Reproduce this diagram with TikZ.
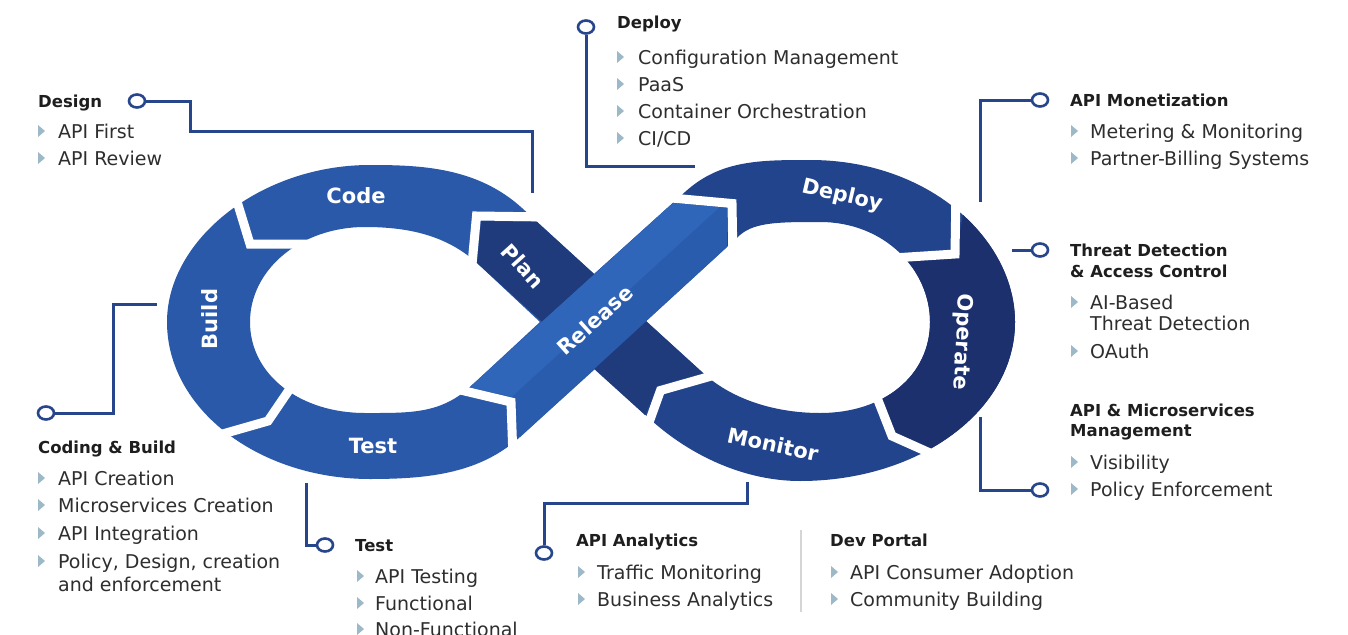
\documentclass[tikz,border=0pt]{standalone}
\usepackage{fontspec}
\setmainfont{DejaVu Sans}
\usetikzlibrary{shapes.geometric}
\definecolor{lobeL}{HTML}{2959A8}
\definecolor{lobeR}{HTML}{22448C}
\definecolor{opcol}{HTML}{1B306D}
\definecolor{plancol}{HTML}{1F3B7C}
\definecolor{relA}{HTML}{3066BA}
\definecolor{relB}{HTML}{2A5CAE}
\definecolor{conncol}{HTML}{26458A}
\definecolor{bulcol}{HTML}{9DB8C6}
\definecolor{hdcol}{HTML}{1E1E1E}
\definecolor{itcol}{HTML}{2E2E2E}
\definecolor{sepcol}{HTML}{D5D5D5}
\begin{document}
\begin{tikzpicture}[x=1pt,y=-1pt,
  gap/.style={draw=white,line width=9pt,line join=miter,line cap=butt},
  conn/.style={draw=conncol,line width=3pt},
  dot/.style={ellipse,draw=conncol,line width=2.6pt,fill=white,minimum width=16pt,minimum height=13pt,inner sep=0pt},
  hd/.style={anchor=base west,inner sep=0pt,text=hdcol,font=\fontsize{16.5}{20}\selectfont\bfseries},
  itm/.style={anchor=base west,inner sep=0pt,text=itcol,font=\fontsize{19}{23}\selectfont},
  lbl/.style={inner sep=0pt,text=white,font=\fontsize{21}{25}\selectfont\bfseries},
  bul/.pic={\fill[bulcol] (0,-6) -- (7,0) -- (0,6) -- cycle;}
]
\useasboundingbox (0,0) rectangle (1348,634);
\fill[white] (0,0) rectangle (1348,634);

% left lobe (Code, Build, Test)
\fill[lobeL,even odd rule] (594,274) -- (522,208) .. controls (477,167) and (420,165) .. (370,165)
  .. controls (260,165) and (167,240) .. (167,322) .. controls (167,410) and (260,479) .. (370,479)
  .. controls (430,479) and (480,473) .. (520,437) -- (595,369) -- cycle
  (540,322) -- (477,263) .. controls (447,236) and (410,227) .. (365,227)
  .. controls (300,227) and (250,270) .. (250,322) .. controls (250,375) and (300,413) .. (365,413)
  .. controls (410,413) and (440,414) .. (470,387) -- cycle;

% right lobe (Deploy, Operate, Monitor)
\fill[lobeR,even odd rule] (594,274) -- (685,192) .. controls (720,160) and (760,160) .. (810,160)
  .. controls (930,160) and (1015,240) .. (1015,322) .. controls (1015,410) and (920,481) .. (800,481)
  .. controls (745,481) and (691,456) .. (651,420) -- (595,369) -- cycle
  (646,321) -- (740,235) .. controls (755,222) and (780,222) .. (820,222)
  .. controls (885,222) and (930,270) .. (930,322) .. controls (930,375) and (885,413) .. (820,413)
  .. controls (780,413) and (735,402) .. (703,373) -- cycle;
\begin{scope}
\clip (905,258) -- (956,254) -- (975,150) -- (1060,150) -- (1060,500) -- (945,470) -- (892,436) -- (878,400) -- (850,330) -- cycle;
\fill[opcol,even odd rule] (594,274) -- (685,192) .. controls (720,160) and (760,160) .. (810,160)
  .. controls (930,160) and (1015,240) .. (1015,322) .. controls (1015,410) and (920,481) .. (800,481)
  .. controls (745,481) and (691,456) .. (651,420) -- (595,369) -- cycle
  (646,321) -- (740,235) .. controls (755,222) and (780,222) .. (820,222)
  .. controls (885,222) and (930,270) .. (930,322) .. controls (930,375) and (885,413) .. (820,413)
  .. controls (780,413) and (735,402) .. (703,373) -- cycle;
\end{scope}

% Plan band
\fill[plancol] (477,263) -- (481,221) -- (537,222) -- (703,373) -- (657,386) -- (645,415) -- cycle;
% Release band
\fill[relB] (470,387) -- (673,203) -- (727,208) -- (727,247) -- (520,437) -- (517,398) -- cycle;
\begin{scope}
\clip (470,387) -- (673,203) -- (727,208) -- (727,247) -- (520,437) -- (517,398) -- cycle;
\fill[relA] (347,547) -- (848,90) -- (300,90) -- (300,547) -- cycle;
\end{scope}

% gaps between stages
\draw[gap] (232,185) -- (250,244) -- (318,244);
\draw[gap] (205,439) -- (268,421) -- (302,371);
\draw[gap] (452,388) -- (511,402) -- (513,458);
\draw[gap] (655,196.5) -- (732,203.5) -- (733,262);
\draw[gap] (956,188) -- (955,254) -- (893,258);
\draw[gap] (874,390) -- (892,436) -- (950,462);
\draw[gap] (722,373) -- (660.5,390.5) -- (647,428);
\draw[gap] (471,275) -- (476.5,216) -- (550,217);

% stage labels
\node[lbl] (lCode) at (356,196) {Code};
\node[lbl,rotate=90] (lBuild) at (210,319) {Build};
\node[lbl] (lTest) at (373,446) {Test};
\node[lbl,rotate=-48] (lPlan) at (523,266) {Plan};
\node[lbl,rotate=42] (lRel) at (595,320) {Release};
\node[lbl,rotate=-13] (lDep) at (842,196) {Deploy};
\node[lbl,rotate=-93] (lOp) at (962,342) {Operate};
\node[lbl,rotate=-12] (lMon) at (773,444) {Monitor};

% connectors
\node[dot] (cDesign) at (137,101) {};
\coordinate (eDesign) at (532,193);
\draw[conn] (cDesign) -| (190,131) -| (eDesign);

\node[dot] (cDeploy) at (586,27) {};
\coordinate (eDeploy) at (695,166);
\draw[conn] (cDeploy) |- (eDeploy);

\node[dot] (cMonet) at (1040,100) {};
\coordinate (eMonet) at (980,202);
\draw[conn] (eMonet) |- (cMonet);

\node[dot] (cThreat) at (1040,250) {};
\coordinate (eThreat) at (1012,250);
\draw[conn] (eThreat) -- (cThreat);

\node[dot] (cMgmt) at (1040,490) {};
\coordinate (eMgmt) at (980,417);
\draw[conn] (eMgmt) |- (cMgmt);

\node[dot] (cCoding) at (46,413) {};
\coordinate (eCoding) at (157,304);
\draw[conn] (cCoding) -| (113,304) -- (eCoding);

\node[dot] (cTest) at (325,545) {};
\coordinate (eTest) at (306,483);
\draw[conn] (eTest) |- (cTest);

\node[dot] (cAna) at (544,553) {};
\coordinate (eAna) at (747,482);
\draw[conn] (eAna) -- (747,503) -| (cAna);

\draw[sepcol,line width=1.2pt] (801,530) -- (801,612);

% Design
\node[hd] (tDesign) at (38,107) {Design};
\pic at (38,131) {bul}; \node[itm] (tD1) at (58,138) {API First};
\pic at (38,158) {bul}; \node[itm] (tD2) at (58,165) {API Review};

% Deploy
\node[hd] (tDeploy) at (617,29) {Deploy};
\pic at (617,57) {bul}; \node[itm] (tP1) at (638,64) {Configuration Management};
\pic at (617,84) {bul}; \node[itm] (tP2) at (638,91) {PaaS};
\pic at (617,111) {bul}; \node[itm] (tP3) at (638,118) {Container Orchestration};
\pic at (617,138) {bul}; \node[itm] (tP4) at (638,145) {CI/CD};

% API Monetization
\node[hd] (tMonet) at (1070,106) {API Monetization};
\pic at (1071,131) {bul}; \node[itm] (tM1) at (1090,138) {Metering \& Monitoring};
\pic at (1071,158) {bul}; \node[itm] (tM2) at (1090,165) {Partner-Billing Systems};

% Threat
\node[hd] (tThreat) at (1070,256) {Threat Detection};
\node[hd] (tThreatB) at (1070,277) {\& Access Control};
\pic at (1071,302) {bul}; \node[itm] (tT1) at (1090,309) {AI-Based};
\node[itm] (tT1b) at (1090,330) {Threat Detection};
\pic at (1071,351) {bul}; \node[itm] (tT2) at (1090,358) {OAuth};

% API & Microservices
\node[hd] (tMgmt) at (1070,416) {API \& Microservices};
\node[hd] (tMgmtB) at (1070,436) {Management};
\pic at (1071,462) {bul}; \node[itm] (tG1) at (1090,469) {Visibility};
\pic at (1071,489) {bul}; \node[itm] (tG2) at (1090,496) {Policy Enforcement};

% Coding & Build
\node[hd] (tCoding) at (38,453) {Coding \& Build};
\pic at (38,478) {bul}; \node[itm] (tC1) at (58,485) {API Creation};
\pic at (38,505) {bul}; \node[itm] (tC2) at (58,512) {Microservices Creation};
\pic at (38,533) {bul}; \node[itm] (tC3) at (58,540) {API Integration};
\pic at (38,561) {bul}; \node[itm] (tC4) at (58,568) {Policy, Design, creation};
\node[itm] (tC4b) at (58,591) {and enforcement};

% Test
\node[hd] (tTest) at (355,551) {Test};
\pic at (357,576) {bul}; \node[itm] (tE1) at (375,583) {API Testing};
\pic at (357,603) {bul}; \node[itm] (tE2) at (375,610) {Functional};
\pic at (357,629) {bul}; \node[itm] (tE3) at (375,636) {Non-Functional};

% API Analytics
\node[hd] (tAna) at (576,546) {API Analytics};
\pic at (578,572) {bul}; \node[itm] (tA1) at (597,579) {Traffic Monitoring};
\pic at (578,599) {bul}; \node[itm] (tA2) at (597,606) {Business Analytics};

% Dev Portal
\node[hd] (tDev) at (830,546) {Dev Portal};
\pic at (831,572) {bul}; \node[itm] (tV1) at (850,579) {API Consumer Adoption};
\pic at (831,599) {bul}; \node[itm] (tV2) at (850,606) {Community Building};
\end{tikzpicture}
\end{document}
